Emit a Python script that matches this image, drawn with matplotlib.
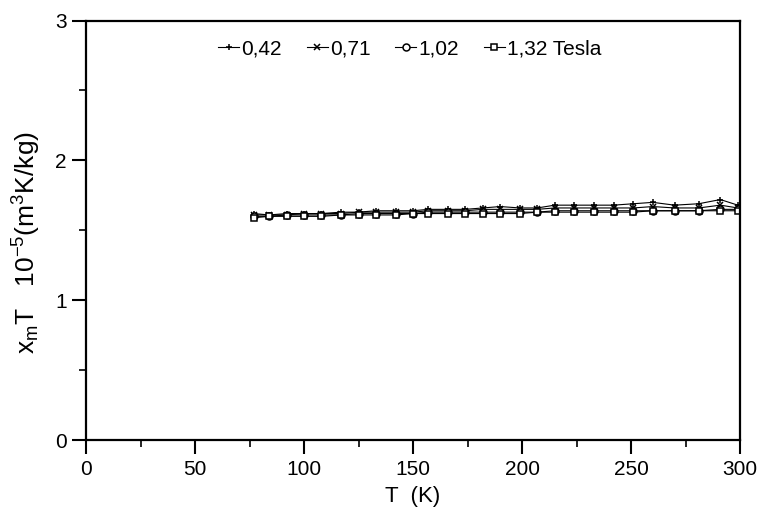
import matplotlib.pyplot as plt
from matplotlib.ticker import MultipleLocator

plt.rcParams['font.family'] = ['Liberation Sans', 'DejaVu Sans']
plt.rcParams['mathtext.fontset'] = 'custom'
plt.rcParams['mathtext.rm'] = 'Liberation Sans'
plt.rcParams['mathtext.it'] = 'Liberation Sans'

# temperatures (K)
T = [77, 84, 92, 100, 108, 117, 125, 133, 142, 150, 157, 166, 174, 182,
     190, 199, 207, 215, 224, 233, 242, 251, 260, 270, 281, 291, 299]

# x_m T (1e-5 m^3 K/kg) at each field
y_042 = [1.62, 1.61, 1.62, 1.62, 1.62, 1.63, 1.63, 1.64, 1.64, 1.64, 1.65, 1.65, 1.65, 1.66,
         1.67, 1.66, 1.66, 1.68, 1.68, 1.68, 1.68, 1.69, 1.70, 1.68, 1.69, 1.72, 1.68]
y_071 = [1.61, 1.61, 1.61, 1.62, 1.62, 1.62, 1.63, 1.63, 1.63, 1.63, 1.64, 1.64, 1.64, 1.65,
         1.65, 1.65, 1.65, 1.66, 1.66, 1.66, 1.66, 1.66, 1.67, 1.66, 1.66, 1.68, 1.66]
y_102 = [1.60, 1.60, 1.61, 1.61, 1.61, 1.61, 1.62, 1.62, 1.62, 1.62, 1.63, 1.63, 1.63, 1.63,
         1.63, 1.63, 1.63, 1.64, 1.64, 1.64, 1.64, 1.64, 1.64, 1.64, 1.64, 1.65, 1.65]
y_132 = [1.59, 1.60, 1.60, 1.60, 1.60, 1.61, 1.61, 1.61, 1.61, 1.62, 1.62, 1.62, 1.62, 1.62,
         1.62, 1.62, 1.63, 1.63, 1.63, 1.63, 1.63, 1.63, 1.64, 1.64, 1.64, 1.64, 1.64]

series = [
    (y_042, '+', '0,42'),
    (y_071, 'x', '0,71'),
    (y_102, 'o', '1,02'),
    (y_132, 's', '1,32 Tesla'),
]

fig = plt.figure(figsize=(7.64, 5.13), dpi=100)
ax = fig.add_axes([0.1126, 0.142, 0.856, 0.818])

for y, m, lab in series:
    ax.plot(T, y, color='black', linewidth=0.8, marker=m, markersize=5,
            markerfacecolor='white', markeredgecolor='black', markeredgewidth=1.1,
            label=lab)

ax.set_xlim(0, 300)
ax.set_ylim(0, 3)
ax.xaxis.set_major_locator(MultipleLocator(50))
ax.xaxis.set_minor_locator(MultipleLocator(25))
ax.yaxis.set_major_locator(MultipleLocator(1))
ax.yaxis.set_minor_locator(MultipleLocator(0.5))
ax.tick_params(which='major', direction='out', length=10, width=1.5, labelsize=15, pad=4)
ax.tick_params(which='minor', direction='out', length=5, width=1.2)
for s in ax.spines.values():
    s.set_linewidth(1.6)

ax.set_xlabel('T  (K)', fontsize=16, labelpad=5)
ax.set_ylabel(r'x$_\mathregular{m}$T   10$^\mathregular{-5}$(m$^\mathregular{3}$K/kg)',
              fontsize=19)
ax.yaxis.set_label_coords(-0.066, 0.47)

ax.legend(loc='upper center', ncol=4, frameon=False, fontsize=15,
          handlelength=1.0, handletextpad=0.1, columnspacing=1.2,
          bbox_to_anchor=(0.495, 1.0))

plt.savefig('out.png', dpi=100)
